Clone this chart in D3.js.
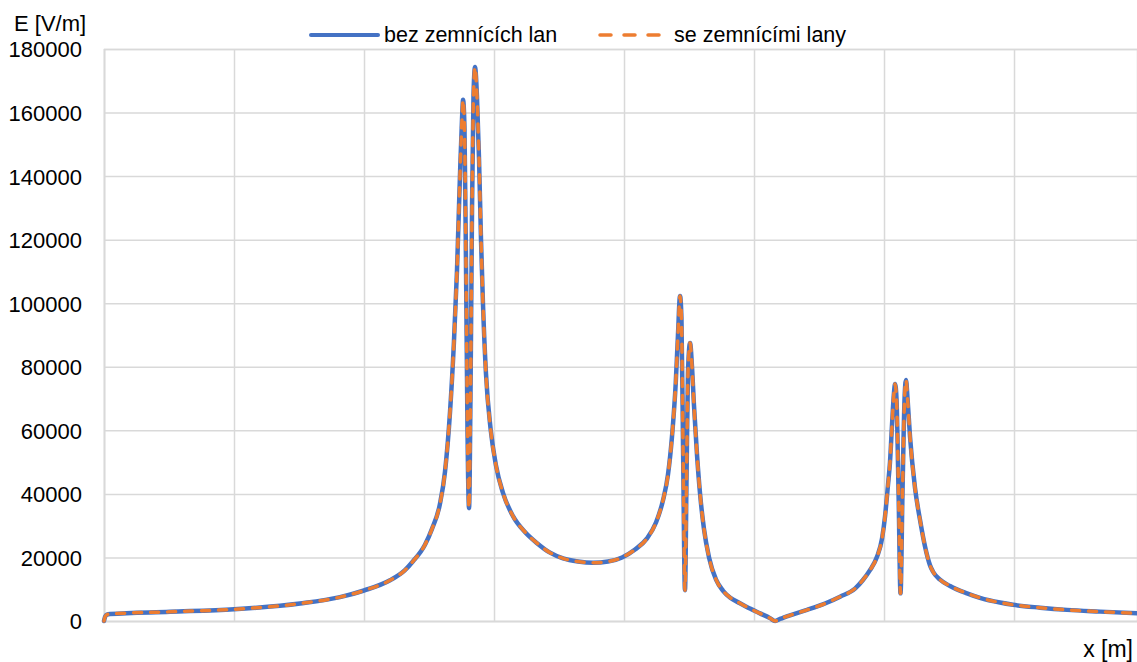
<!DOCTYPE html>
<html>
<head>
<meta charset="utf-8">
<script src="https://cdnjs.cloudflare.com/ajax/libs/d3/7.8.5/d3.min.js"></script>
<style>
  body { margin: 0; background: #fff; }
  svg { display: block; font-family: "Liberation Sans", Arial, sans-serif; }
</style>
</head>
<body>
<div id="chart"></div>
<script>
// x position [m]
var xs = [0, 0.08, 0.23, 0.46, 5.08, 10, 15.08, 18.15, 20, 22,
  23.15, 23.77, 24.69, 25.23, 25.85, 26.23, 26.62, 26.92, 27.15, 27.38,
  27.54, 27.62, 27.73, 27.85, 27.96, 28.08, 28.19, 28.31, 28.42, 28.54,
  28.69, 28.85, 29, 29.15, 29.38, 29.75, 30.15, 30.69, 31.46, 32.38,
  33.31, 34.31, 35.31, 36.46, 37.62, 38.77, 39.85, 40.85, 41.77, 42.46,
  43, 43.38, 43.69, 43.98, 44.15, 44.31, 44.42, 44.54, 44.69, 44.81,
  44.92, 45.08, 45.23, 45.38, 45.62, 45.85, 46.15, 46.54, 47.08, 47.62,
  48.15, 48.92, 49.69, 50.46, 51.23, 51.62, 52, 52.77, 54.08, 55.46,
  56.62, 57.77, 58.38, 58.92, 59.46, 59.85, 60.08, 60.31, 60.46, 60.62,
  60.77, 60.85, 60.96, 61.12, 61.27, 61.42, 61.58, 61.69, 61.81, 62,
  62.38, 62.77, 63.15, 63.54, 63.77, 64.31, 65.08, 66.38, 67.38, 68.92,
  69.92, 72, 74.08, 76.62, 79.46];

// E [V/m] without ground wires
var eBez = [0, 1300, 2000, 2200, 2900, 3700, 5500, 7500, 9600, 12800,
  16000, 18800, 24000, 29000, 37000, 47000, 66000, 88000, 110000, 140000,
  158000, 164000, 155000, 110000, 60000, 35500, 70000, 130000, 165000, 174300,
  165000, 145000, 120000, 100000, 78000, 60000, 49000, 40300, 33000, 28000,
  24500, 21500, 19700, 18700, 18300, 18700, 20000, 22500, 26000, 31000,
  38000, 46000, 58000, 75000, 90000, 102300, 95000, 55000, 9700, 45000,
  78000, 87500, 80000, 68000, 52000, 40000, 29000, 20000, 13000, 9500,
  7400, 5600, 3900, 2400, 900, 0, 650, 1800, 3500, 5500,
  7650, 10200, 12900, 16000, 20200, 26000, 33000, 43000, 50000, 62000,
  72000, 74600, 70000, 40000, 8700, 40000, 70000, 75800, 70000, 58000,
  42000, 31800, 23500, 17500, 15500, 13000, 11000, 8700, 7300, 5800,
  5100, 4200, 3500, 2950, 2400];

// E [V/m] with ground wires (same as far as the picture shows)
var eSe = [0, 1300, 2000, 2200, 2900, 3700, 5500, 7500, 9600, 12800,
  16000, 18800, 24000, 29000, 37000, 47000, 66000, 88000, 110000, 140000,
  158000, 164000, 155000, 110000, 60000, 35500, 70000, 130000, 165000, 174300,
  165000, 145000, 120000, 100000, 78000, 60000, 49000, 40300, 33000, 28000,
  24500, 21500, 19700, 18700, 18300, 18700, 20000, 22500, 26000, 31000,
  38000, 46000, 58000, 75000, 90000, 102300, 95000, 55000, 9700, 45000,
  78000, 87500, 80000, 68000, 52000, 40000, 29000, 20000, 13000, 9500,
  7400, 5600, 3900, 2400, 900, 0, 650, 1800, 3500, 5500,
  7650, 10200, 12900, 16000, 20200, 26000, 33000, 43000, 50000, 62000,
  72000, 74600, 70000, 40000, 8700, 40000, 70000, 75800, 70000, 58000,
  42000, 31800, 23500, 17500, 15500, 13000, 11000, 8700, 7300, 5800,
  5100, 4200, 3500, 2950, 2400];

var yTicks = [0, 20000, 40000, 60000, 80000, 100000, 120000, 140000, 160000, 180000];
var xGrid = [0, 10, 20, 30, 40, 50, 60, 70];
var seriesNames = ["bez zemnících lan", "se zemnícími lany"];

(function() {
  var width = 1137, height = 662;
  var mLeft = 104, mTop = 49, mBottom = 621, mRight = 1137;

  var svg = d3.select("#chart").append("svg")
      .attr("width", width)
      .attr("height", height);

  var x = d3.scaleLinear().domain([0, 79.46]).range([mLeft, mRight]);
  var y = d3.scaleLinear().domain([0, 180000]).range([mBottom, mTop]);

  // gridlines
  svg.append("g")
    .attr("transform", "translate(0," + mBottom + ")")
    .call(d3.axisBottom(x).tickValues(xGrid).tickSize(-(mBottom - mTop)).tickFormat(""))
    .call(function(g) {
      g.select(".domain").attr("stroke", "#d9d9d9").attr("stroke-width", 1.5);
      g.selectAll(".tick line").attr("stroke", "#d9d9d9").attr("stroke-width", 1.5);
    });

  svg.append("g")
    .attr("transform", "translate(" + mLeft + ",0)")
    .call(d3.axisLeft(y).tickValues(yTicks).tickSize(-(mRight - mLeft))
      .tickPadding(22).tickFormat(d3.format("d")))
    .call(function(g) {
      g.select(".domain").attr("stroke", "#d9d9d9").attr("stroke-width", 1.5);
      g.selectAll(".tick line").attr("stroke", "#d9d9d9").attr("stroke-width", 1.5);
      g.selectAll(".tick text")
        .attr("fill", "#000")
        .attr("dy", "0.36em")
        .style("font-size", "22px")
        .style("font-family", "Liberation Sans, Arial, sans-serif");
    });

  var line = d3.line()
    .curve(d3.curveMonotoneX)
    .x(function(d) { return x(d[0]); })
    .y(function(d) { return y(d[1]); });

  var plot = svg.append("g");
  plot.append("path")
    .datum(xs.map(function(v, i) { return [v, eBez[i]]; }))
    .attr("d", line)
    .attr("fill", "none")
    .attr("stroke", "#4472C4")
    .attr("stroke-width", 4.5)
    .attr("stroke-linejoin", "round")
    .attr("stroke-linecap", "round");

  plot.append("path")
    .datum(xs.map(function(v, i) { return [v, eSe[i]]; }))
    .attr("d", line)
    .attr("fill", "none")
    .attr("stroke", "#ED7D31")
    .attr("stroke-width", 3.5)
    .attr("stroke-dasharray", "8,9")
    .attr("stroke-linejoin", "round")
    .attr("stroke-linecap", "round");

  // axis titles
  svg.append("text")
    .attr("x", 14).attr("y", 31)
    .style("font-size", "22px")
    .text("E [V/m]");

  svg.append("text")
    .attr("x", 1133).attr("y", 657)
    .attr("text-anchor", "end")
    .style("font-size", "23px")
    .text("x [m]");

  // legend
  var legend = svg.append("g");
  legend.append("line")
    .attr("x1", 311).attr("x2", 378).attr("y1", 35).attr("y2", 35)
    .attr("stroke", "#4472C4").attr("stroke-width", 4).attr("stroke-linecap", "round");
  legend.append("text")
    .attr("x", 384).attr("y", 42)
    .style("font-size", "21.5px")
    .text(seriesNames[0]);
  legend.append("line")
    .attr("x1", 600).attr("x2", 667).attr("y1", 35).attr("y2", 35)
    .attr("stroke", "#ED7D31").attr("stroke-width", 3.5)
    .attr("stroke-dasharray", "11,13").attr("stroke-linecap", "round");
  legend.append("text")
    .attr("x", 674).attr("y", 42)
    .style("font-size", "21.5px")
    .text(seriesNames[1]);
})();
</script>
</body>
</html>
